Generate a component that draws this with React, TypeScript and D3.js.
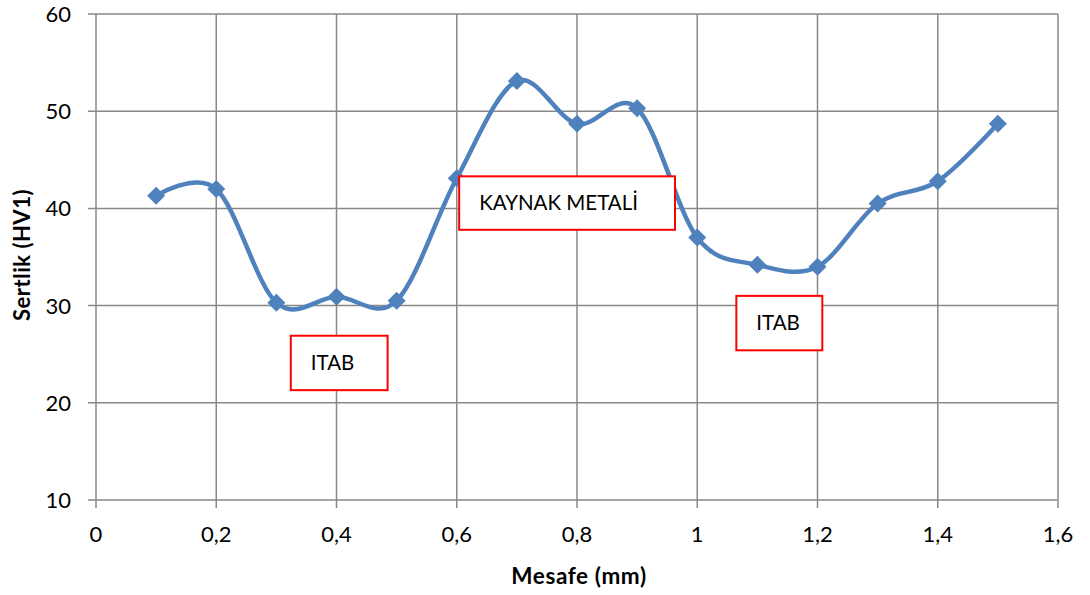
import React from "react";
import * as d3 from "d3";

const xValues = [0.1, 0.2, 0.3, 0.4, 0.5, 0.6, 0.7, 0.8, 0.9, 1.0, 1.1, 1.2, 1.3, 1.4, 1.5];
const hardness = [41.3, 42.0, 30.3, 30.9, 30.5, 43.1, 53.1, 48.7, 50.3, 37.0, 34.2, 34.0, 40.5, 42.8, 48.7];
const xTicks = [0, 0.2, 0.4, 0.6, 0.8, 1.0, 1.2, 1.4, 1.6];
const yTicks = [10, 20, 30, 40, 50, 60];
const annotations = [
  { label: "KAYNAK METALİ", x0: 0.604, x1: 0.963, y0: 43.3, y1: 37.8 },
  { label: "ITAB", x0: 0.324, x1: 0.485, y0: 26.9, y1: 21.3 },
  { label: "ITAB", x0: 1.065, x1: 1.208, y0: 31.0, y1: 25.4 },
];

const W = 1090, H = 595;
const L = 96, R = 1058, T = 14, B = 500;
const font = "Lato, 'Open Sans', sans-serif";

export default function App() {
  const x = d3.scaleLinear().domain([0, 1.6]).range([L, R]);
  const y = d3.scaleLinear().domain([10, 60]).range([B, T]);
  const pts: [number, number][] = xValues.map((v, i) => [x(v), y(hardness[i])]);
  const line = d3.line().curve(d3.curveCardinal.tension(0))(pts) || "";
  const fmt = (v: number) => String(+v.toFixed(1)).replace(".", ",");
  const grid = "#888888";
  const m = 9;
  return (
    <svg width={W} height={H} style={{ position: "absolute", left: 0, top: 0, background: "#fff" }}>
      {yTicks.map((t) => (
        <g key={"y" + t}>
          <line x1={L - 8} x2={R} y1={y(t)} y2={y(t)} stroke={grid} strokeWidth={1.5} />
          <text x={71} y={y(t)} dy="0.36em" textAnchor="end" fontFamily={font} fontSize={22} fill="#000">{t}</text>
        </g>
      ))}
      {xTicks.map((t) => (
        <g key={"x" + t}>
          <line x1={x(t)} x2={x(t)} y1={T} y2={B + 8} stroke={grid} strokeWidth={1.5} />
          <text x={x(t)} y={542} textAnchor="middle" fontFamily={font} fontSize={22} fill="#000">{fmt(t)}</text>
        </g>
      ))}
      <path d={line} fill="none" stroke="#4F81BD" strokeWidth={4.5} strokeLinejoin="round" />
      {pts.map(([px, py], i) => (
        <path key={"m" + i} d={`M${px},${py - m}L${px + m},${py}L${px},${py + m}L${px - m},${py}Z`} fill="#4F81BD" />
      ))}
      {annotations.map((a, i) => (
        <g key={"a" + i}>
          <rect x={x(a.x0)} y={y(a.y0)} width={x(a.x1) - x(a.x0)} height={y(a.y1) - y(a.y0)} fill="#fff" stroke="#FF0000" strokeWidth={2} />
          <text x={x(a.x0) + 20} y={(y(a.y0) + y(a.y1)) / 2} dy="0.36em" fontFamily={font} fontSize={20.5} fill="#000">{a.label}</text>
        </g>
      ))}
      <text x={579} y={584} textAnchor="middle" fontFamily={font} fontSize={22.5} fontWeight="bold" letterSpacing={0.6} fill="#000">Mesafe (mm)</text>
      <text transform={`translate(30,255) rotate(-90)`} textAnchor="middle" fontFamily={font} fontSize={22} fontWeight="bold" letterSpacing={0.5} fill="#000">Sertlik (HV1)</text>
    </svg>
  );
}
